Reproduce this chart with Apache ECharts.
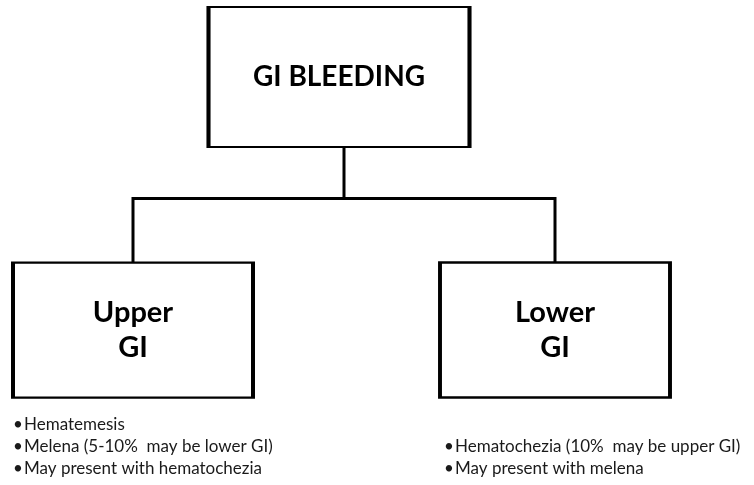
<!DOCTYPE html>
<html>
<head>
<meta charset="utf-8">
<script src="https://cdn.jsdelivr.net/npm/echarts@6/dist/echarts.min.js"></script>
<style>html,body{margin:0;padding:0;background:#fff;}#c{width:754px;height:485px;}</style>
</head>
<body>
<div id="c"></div>
<script>
const rootName = 'GI BLEEDING';
const branchNames = ['Upper\nGI', 'Lower\nGI'];
const upperNotes = ['Hematemesis', 'Melena (5-10%  may be lower GI)', 'May present with hematochezia'];
const lowerNotes = ['Hematochezia (10%  may be upper GI)', 'May present with melena'];

const FONT = 'Lato';
const chart = echarts.init(document.getElementById('c'), null, {renderer: 'canvas'});
const boxStyle = {color: '#fff', borderColor: '#000', borderWidth: 3};
const rootLabel = {show: true, position: 'inside', color: '#000', fontFamily: FONT, fontWeight: 'bold', fontSize: 28, lineHeight: 35, align: 'center', verticalAlign: 'middle'};
const leafLabel = Object.assign({}, rootLabel, {fontSize: 29});

const treeData = {
  name: rootName,
  symbolSize: [261, 140],
  symbolOffset: [-5, 0],
  label: rootLabel,
  children: [
    {name: branchNames[0], symbolSize: [240, 135]},
    {name: branchNames[1], symbolSize: [230, 135]}
  ]
};

function bulletText(arr) { return arr.map(s => '{b|\u2022}' + s).join('\n'); }
const noteStyle = {fontFamily: FONT, fontSize: 17, lineHeight: 22, fill: '#1a1a1a',
  rich: {b: {width: 11, fontFamily: FONT, fontSize: 17, lineHeight: 22, fill: '#1a1a1a'}}};

chart.setOption({
  animation: false,
  series: [{
    type: 'tree',
    data: [treeData],
    orient: 'TB',
    layout: 'orthogonal',
    edgeShape: 'polyline',
    edgeForkPosition: '48%',
    top: 77, bottom: 155, left: -78, right: -12,
    symbol: 'rect',
    roam: false,
    expandAndCollapse: false,
    initialTreeDepth: -1,
    itemStyle: boxStyle,
    lineStyle: {color: '#000', width: 3, curveness: 0},
    label: rootLabel,
    leaves: {label: leafLabel, itemStyle: boxStyle},
    emphasis: {disabled: true}
  }],
  graphic: [
    {type: 'text', left: 13, top: 414, style: Object.assign({text: bulletText(upperNotes)}, noteStyle)},
    {type: 'text', left: 444, top: 436, style: Object.assign({text: bulletText(lowerNotes)}, noteStyle)}
  ]
});
</script>
</body>
</html>
